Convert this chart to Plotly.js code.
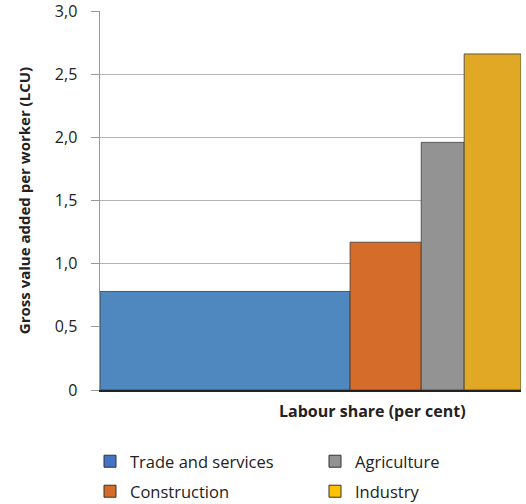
<!DOCTYPE html>
<html>
<head>
<meta charset="utf-8">
<script src="https://cdn.plot.ly/plotly-3.0.1.min.js"></script>
<style>html,body{margin:0;padding:0;background:#fff}#chart{width:526px;height:504px}</style>
</head>
<body>
<div id="chart"></div>
<script>
const sectors = ["Trade and services", "Construction", "Agriculture", "Industry"];
const labourShare = [59.4, 16.9, 10.2, 13.5];
const gvaPerWorker = [0.78, 1.17, 1.96, 2.66];
const barColors = ["#4F88BE", "#D56C29", "#939393", "#E0A825"];
const legendColors = ["#4472C4", "#D56C29", "#939393", "#FFC000"];
const legendIds = ["legend", "legend2", "legend3", "legend4"];
const yTickVals = [0, 0.5, 1, 1.5, 2, 2.5, 3];
const yTickText = ["0", "0,5", "1,0", "1,5", "2,0", "2,5", "3,0"];

const font = "Open Sans, Noto Sans, sans-serif";
const traces = [];
let start = 0;
sectors.forEach((s, i) => {
  const w = labourShare[i];
  traces.push({
    type: "bar", x: [start + w / 2], y: [gvaPerWorker[i]], width: [w],
    marker: {color: barColors[i], line: {color: "#3a3a3a", width: 0.8}},
    showlegend: false, hoverinfo: "skip"
  });
  start += w;
});
sectors.forEach((s, i) => {
  traces.push({
    type: "bar", x: [null], y: [null], name: s, legend: legendIds[i],
    marker: {color: legendColors[i], line: {color: "#333", width: 1}},
    showlegend: true
  });
});

function leg(px, py) {
  return {orientation: "h", xref: "container", yref: "container",
    x: px / 526, y: 1 - py / 504, xanchor: "left", yanchor: "top",
    font: {size: 16.5, color: "#222"}, itemwidth: 30,
    bgcolor: "rgba(0,0,0,0)"};
}

const layout = {
  width: 526, height: 504,
  margin: {l: 100, r: 5, t: 11, b: 114, autoexpand: false},
  paper_bgcolor: "#fff", plot_bgcolor: "#fff",
  font: {family: font, color: "#222", size: 14},
  barmode: "overlay",
  xaxis: {range: [0, 100], showticklabels: false, showgrid: false, zeroline: false,
          showline: true, linecolor: "#222", linewidth: 1.5, ticks: "", fixedrange: true},
  yaxis: {range: [0, 3], tickvals: yTickVals, ticktext: yTickText,
          showgrid: true, gridcolor: "#b4b4b4", gridwidth: 1, zeroline: false,
          showline: true, linecolor: "#999", linewidth: 1.5,
          ticks: "outside", ticklen: 8, tickcolor: "#999", tickwidth: 1,
          ticklabelstandoff: 10, ticklabeloverflow: "allow",
          tickfont: {size: 16, color: "#222"},
          title: {text: "<b>Gross value added per worker (LCU)</b>", font: {size: 15, color: "#222"}, standoff: 20}},
  annotations: [{
    text: "<b>Labour share (per cent)</b>", xref: "paper", yref: "paper",
    x: 0.648, y: 0, xanchor: "center", yanchor: "top", yshift: -8,
    showarrow: false, font: {size: 16, color: "#222"}
  }],
  legend: leg(90, 444),
  legend2: leg(90, 474),
  legend3: leg(315, 444),
  legend4: leg(315, 474),
  showlegend: true
};

Plotly.newPlot("chart", traces, layout, {displayModeBar: false, staticPlot: true});
</script>
</body>
</html>
